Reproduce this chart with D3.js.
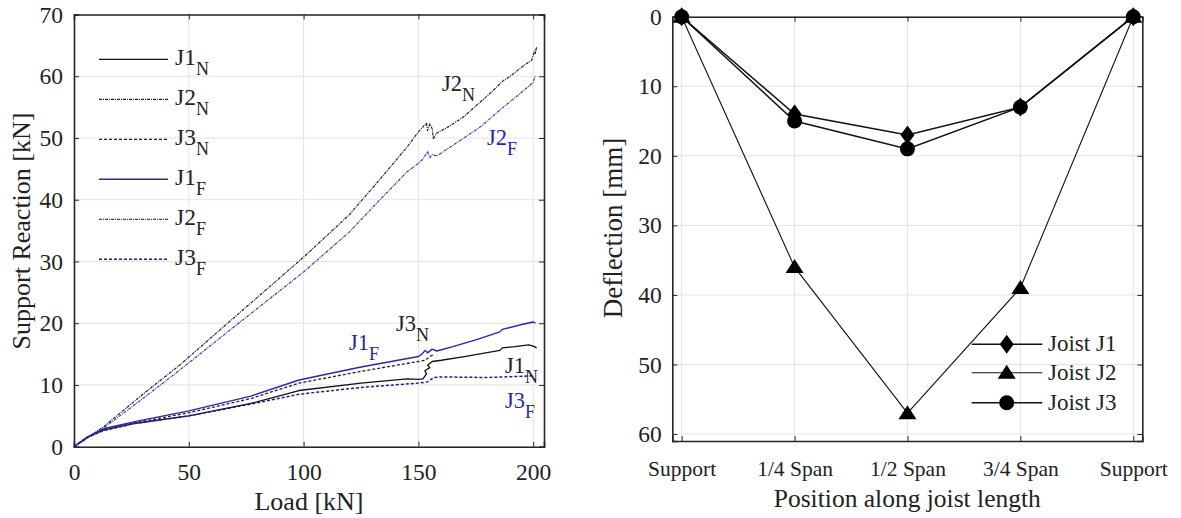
<!DOCTYPE html>
<html><head><meta charset="utf-8">
<script src="https://cdn.jsdelivr.net/npm/d3@7"></script>
<style>
body{margin:0;background:#fff;}
text{font-family:"Liberation Serif","Times New Roman",serif;fill:#222;}
</style></head>
<body><svg id="c" width="1181" height="518"></svg>
<script>
// ---------- Left chart data: [load kN, support reaction kN] ----------
const j1N = [[0,0],[6,1.6],[12.8,2.7],[27,3.8],[50,5.0],[77,7.0],[98,9.1],[125,10.3],[145,11.0],[150,10.9],[152,11.0],[153.5,11.8],[152.8,12.3],[155,12.8],[154,13.2],[156,13.8],[160,14.0],[170,14.6],[185.5,15.6],[186.5,16.0],[192,16.2],[198,16.5],[200,16.3],[201.5,16.0]];
const j2N = [[0,0],[6,1.5],[12.8,3.2],[30,8.5],[46,13.2],[70,21.0],[100,30.7],[120,37.6],[133,43.2],[145,48.5],[150,51.0],[152,51.8],[153.5,52.4],[154,51.2],[155,52.3],[156,51.5],[156.5,49.9],[158,50.8],[163,51.8],[169.6,53.4],[175,55.2],[180,56.8],[187,59.3],[190,60.0],[195,61.5],[199.3,62.6],[200.5,64.0],[201.5,64.6],[200.8,63.6]];
const j3N = [[0,0],[6,1.6],[12.8,2.8],[27,3.9],[50,5.5],[77,7.8],[98,10.3],[125,12.2],[150,13.8],[153,14.0],[155,14.6],[157,15.0]];
const j1F = [[0,0],[6,1.6],[12.8,2.9],[27,4.1],[50,5.8],[77,8.2],[98,10.8],[125,12.9],[150,14.6],[151.5,15.0],[153,15.6],[154,15.2],[156,15.8],[158,15.5],[165,16.2],[175,17.3],[185.5,18.6],[186.5,19.0],[195,19.8],[200,20.2],[201,20.0]];
const j2F = [[0,0],[6,1.5],[12.8,3.0],[30,7.8],[46,12.4],[70,19.5],[100,28.3],[120,34.8],[133,39.9],[145,44.5],[150,45.9],[152,46.6],[154,47.8],[155,46.8],[156,47.3],[158,47.1],[165,48.8],[177,51.8],[187,55.0],[193,56.8],[200,59.0],[200.8,60.0]];
const j3F = [[0,0],[6,1.5],[12.8,2.6],[27,3.8],[50,5.0],[77,6.9],[98,8.5],[125,9.6],[150,10.3],[154,10.5],[155,10.8],[157,11.2],[160,11.3],[180,11.2],[195,11.4],[200,11.5]];
const loadTicks = [0,50,100,150,200];
const reactTicks = [0,10,20,30,40,50,60,70];

// ---------- Right chart data ----------
const positions = ["Support","1/4 Span","1/2 Span","3/4 Span","Support"];
const defJ1 = [0,14,17,13,0];
const defJ2 = [0,36,57,39,0];
const defJ3 = [0,15,19,13,0];
const defTicks = [0,10,20,30,40,50,60];

const svg = d3.select("#c");
const BLUE = "#2828a8";
const GRID = "#e3e3e3";
const AX = "#262626";
const NUMFS = 23.5;
const CATFS = 21.5;

// ================= LEFT CHART =================
const L = {l:74, r:544, t:14.5, b:446.7};
const xL = d3.scaleLinear().domain([0,204.7]).range([L.l,L.r]);
const yL = d3.scaleLinear().domain([0,70]).range([L.b,L.t]);
const gL = svg.append("g");

gL.append("g").selectAll("line").data(loadTicks).join("line")
  .attr("x1",d=>xL(d)).attr("x2",d=>xL(d)).attr("y1",L.t).attr("y2",L.b)
  .attr("stroke",GRID).attr("stroke-width",1);
gL.append("g").selectAll("line").data(reactTicks).join("line")
  .attr("x1",L.l).attr("x2",L.r).attr("y1",d=>yL(d)).attr("y2",d=>yL(d))
  .attr("stroke",GRID).attr("stroke-width",1);

const axBL = gL.append("g").attr("transform",`translate(0,${L.b})`)
  .call(d3.axisBottom(xL).tickValues(loadTicks).tickSize(-5).tickPadding(16.5));
const axLL = gL.append("g").attr("transform",`translate(${L.l},0)`)
  .call(d3.axisLeft(yL).tickValues(reactTicks).tickSize(-5).tickPadding(11));
const axTL = gL.append("g").attr("transform",`translate(0,${L.t})`)
  .call(d3.axisTop(xL).tickValues(loadTicks).tickSize(-5).tickFormat(""));
const axRL = gL.append("g").attr("transform",`translate(${L.r},0)`)
  .call(d3.axisRight(yL).tickValues(reactTicks).tickSize(-5).tickFormat(""));
[axBL,axLL,axTL,axRL].forEach(a=>{
  a.select(".domain").attr("stroke",AX).attr("stroke-width",1.6);
  a.selectAll(".tick line").attr("stroke",AX).attr("stroke-width",1);
  a.selectAll("text").style("font-size",NUMFS+"px").attr("fill","#222");
});

const lineL = d3.line().x(d=>xL(d[0])).y(d=>yL(d[1]));
const leftSeries = [
  {name:"J1", sub:"N", data:j1N, color:"#111", dash:null, w:1.3},
  {name:"J2", sub:"N", data:j2N, color:"#222", dash:"3,1,1,1", w:1.2},
  {name:"J3", sub:"N", data:j3N, color:"#222", dash:"3,2", w:1.3},
  {name:"J1", sub:"F", data:j1F, color:BLUE, dash:null, w:1.4},
  {name:"J2", sub:"F", data:j2F, color:"#3a3ab0", dash:"3,1,1,1", w:1.2},
  {name:"J3", sub:"F", data:j3F, color:"#1c1c90", dash:"3,2", w:1.5}
];
leftSeries.forEach(s=>{
  gL.append("path").datum(s.data).attr("d",lineL).attr("fill","none")
    .attr("stroke",s.color).attr("stroke-width",s.w)
    .attr("stroke-dasharray",s.dash).attr("stroke-linejoin","round");
});

const legL = gL.append("g");
leftSeries.forEach((s,i)=>{
  const y = 59.3 + i*40;
  legL.append("line").attr("x1",99).attr("x2",168).attr("y1",y).attr("y2",y)
    .attr("stroke",s.color).attr("stroke-width",s.w).attr("stroke-dasharray",s.dash);
  const t = legL.append("text").attr("x",175).attr("y",y+6).style("font-size","23.5px");
  t.append("tspan").text(s.name);
  t.append("tspan").attr("dy",10).style("font-size","18px").text(s.sub);
});

const annots = [
  {x:442, y:91, n:"J2", s:"N", c:"#222"},
  {x:487, y:145, n:"J2", s:"F", c:BLUE},
  {x:396, y:331, n:"J3", s:"N", c:"#222"},
  {x:349, y:350, n:"J1", s:"F", c:BLUE},
  {x:505, y:373, n:"J1", s:"N", c:"#222"},
  {x:505, y:408, n:"J3", s:"F", c:BLUE}
];
annots.forEach(a=>{
  const t = gL.append("text").attr("x",a.x).attr("y",a.y).style("font-size","22.5px").style("fill",a.c);
  t.append("tspan").text(a.n);
  t.append("tspan").attr("dy",10).style("font-size","18px").text(a.s);
});

gL.append("text").attr("x",(L.l+L.r)/2).attr("y",510).attr("text-anchor","middle")
  .style("font-size","26px").text("Load [kN]");
gL.append("text").attr("transform",`translate(30,231) rotate(-90)`)
  .attr("text-anchor","middle").style("font-size","26px").text("Support Reaction [kN]");

// ================= RIGHT CHART =================
const R = {l:672.3, r:1142.3, t:16.7, b:441};
const xR = d3.scaleLinear().domain([-0.083,4.08]).range([R.l,R.r]);
const yR = d3.scaleLinear().domain([0,61]).range([R.t,R.b]);
const gR = svg.append("g");
const idx = d3.range(positions.length);

gR.append("g").selectAll("line").data(idx).join("line")
  .attr("x1",d=>xR(d)).attr("x2",d=>xR(d)).attr("y1",R.t).attr("y2",R.b)
  .attr("stroke",GRID).attr("stroke-width",1);
gR.append("g").selectAll("line").data(defTicks).join("line")
  .attr("x1",R.l).attr("x2",R.r).attr("y1",d=>yR(d)).attr("y2",d=>yR(d))
  .attr("stroke",GRID).attr("stroke-width",1);

const axBR = gR.append("g").attr("transform",`translate(0,${R.b})`)
  .call(d3.axisBottom(xR).tickValues(idx).tickFormat(i=>positions[i]).tickSize(-5).tickPadding(20));
const axLR = gR.append("g").attr("transform",`translate(${R.l},0)`)
  .call(d3.axisLeft(yR).tickValues(defTicks).tickSize(-5).tickPadding(10.5));
const axTR = gR.append("g").attr("transform",`translate(0,${R.t})`)
  .call(d3.axisTop(xR).tickValues(idx).tickSize(-5).tickFormat(""));
const axRR = gR.append("g").attr("transform",`translate(${R.r},0)`)
  .call(d3.axisRight(yR).tickValues(defTicks).tickSize(-5).tickFormat(""));
[axBR,axLR,axTR,axRR].forEach(a=>{
  a.select(".domain").attr("stroke",AX).attr("stroke-width",1.6);
  a.selectAll(".tick line").attr("stroke",AX).attr("stroke-width",1);
  a.selectAll("text").attr("fill","#222");
});
axBR.selectAll("text").style("font-size",CATFS+"px");
axLR.selectAll("text").style("font-size",NUMFS+"px");

const lineR = d3.line().x((d,i)=>xR(i)).y(d=>yR(d));
const diamond = "M0,-9.5L7,0L0,9.5L-7,0Z";
const triangle = "M0,-8L9,6L-9,6Z";
const rightSeries = [
  {label:"Joist J1", data:defJ1, w:1.5, shape:"diamond"},
  {label:"Joist J2", data:defJ2, w:1.1, shape:"triangle"},
  {label:"Joist J3", data:defJ3, w:1.5, shape:"circle"}
];
function marker(g, shape, x, y){
  if(shape==="circle") g.append("circle").attr("cx",x).attr("cy",y).attr("r",7.5).attr("fill","#000");
  else g.append("path").attr("d",shape==="diamond"?diamond:triangle)
    .attr("transform",`translate(${x},${y})`).attr("fill","#000");
}
rightSeries.forEach(s=>{
  gR.append("path").datum(s.data).attr("d",lineR).attr("fill","none")
    .attr("stroke","#111").attr("stroke-width",s.w);
  s.data.forEach((v,i)=>marker(gR, s.shape, xR(i), yR(v)));
});

rightSeries.forEach((s,i)=>{
  const y = [344.3,372.7,402.7][i];
  gR.append("line").attr("x1",971.7).attr("x2",1042.3).attr("y1",y).attr("y2",y)
    .attr("stroke","#111").attr("stroke-width",s.w);
  marker(gR, s.shape, 1006.7, y);
  gR.append("text").attr("x",1048).attr("y",y+7).style("font-size","23px").text(s.label);
});

gR.append("text").attr("x",(R.l+R.r)/2).attr("y",507).attr("text-anchor","middle")
  .style("font-size","25.5px").text("Position along joist length");
gR.append("text").attr("transform",`translate(622,228) rotate(-90)`)
  .attr("text-anchor","middle").style("font-size","27px").text("Deflection [mm]");
</script></body></html>
